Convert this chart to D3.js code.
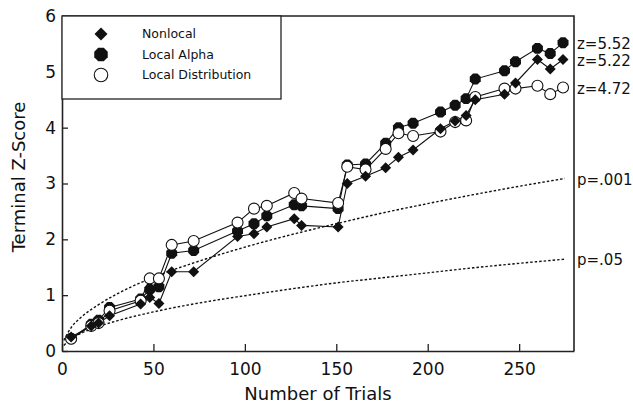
<!DOCTYPE html>
<html>
<head>
<meta charset="utf-8">
<script src="https://cdn.jsdelivr.net/npm/d3@7"></script>
<style>
  body { margin: 0; background: #fff; }
  text { font-family: "DejaVu Sans", "Liberation Sans", sans-serif; fill: #111; }
</style>
</head>
<body>
<div id="chart"></div>
<script>
// trial counts shared by the three series
const trials = [5, 16, 20, 26, 43, 48, 53, 60, 72, 96, 105, 112, 127, 131, 151, 156, 166, 177, 184, 192, 207, 215, 221, 226, 242, 248, 260, 267, 274];

const nonlocal = [0.25, 0.45, 0.50, 0.63, 0.84, 0.96, 0.85, 1.42, 1.42, 2.05, 2.10, 2.22, 2.37, 2.25, 2.22, 3.00, 3.13, 3.28, 3.47, 3.60, 3.98, 4.12, 4.22, 4.50, 4.60, 4.80, 5.22, 5.05, 5.22];
const localAlpha = [0.22, 0.48, 0.55, 0.78, 0.93, 1.10, 1.15, 1.75, 1.80, 2.15, 2.28, 2.42, 2.62, 2.60, 2.55, 3.33, 3.35, 3.72, 4.00, 4.08, 4.28, 4.40, 4.52, 4.87, 5.02, 5.18, 5.42, 5.33, 5.52];
const localDist = [0.22, 0.45, 0.50, 0.72, 0.90, 1.30, 1.30, 1.90, 1.97, 2.30, 2.55, 2.60, 2.83, 2.73, 2.65, 3.30, 3.25, 3.62, 3.90, 3.85, 3.93, 4.10, 4.13, 4.55, 4.70, 4.70, 4.75, 4.60, 4.72];

// significance curves
const critN = [1, 5, 10, 20, 30, 50, 75, 100, 125, 150, 175, 200, 225, 250, 275];
const p001 = [0.19, 0.42, 0.59, 0.83, 1.02, 1.32, 1.61, 1.86, 2.08, 2.28, 2.47, 2.64, 2.80, 2.95, 3.09];
const p05 = [0.10, 0.22, 0.31, 0.44, 0.54, 0.70, 0.86, 0.99, 1.11, 1.22, 1.31, 1.40, 1.49, 1.57, 1.645];

const xTicks = [0, 50, 100, 150, 200, 250];
const yTicks = [0, 1, 2, 3, 4, 5, 6];

const W = 633, H = 405;
const mLeft = 62, mRight = 574, mTop = 16, mBottom = 351;

const x = d3.scaleLinear().domain([0, 280]).range([mLeft, mRight]);
const y = d3.scaleLinear().domain([0, 6]).range([mBottom, mTop]);

const svg = d3.select("#chart").append("svg")
  .attr("width", W).attr("height", H);

// reference curves
const curveLine = d3.line().x((d, i) => x(critN[i])).y(d => y(d)).curve(d3.curveMonotoneX);
[p001, p05].forEach(vals => {
  svg.append("path")
    .attr("d", curveLine(vals))
    .attr("fill", "none")
    .attr("stroke", "#111")
    .attr("stroke-width", 1.4)
    .attr("stroke-dasharray", "2.5,2");
});

// series
const series = [
  { name: "Local Alpha", vals: localAlpha, shape: "octagon" },
  { name: "Local Distribution", vals: localDist, shape: "open" },
  { name: "Nonlocal", vals: nonlocal, shape: "diamond" }
];

const dataLine = d3.line().x((d, i) => x(trials[i])).y(d => y(d));

function drawMarker(g, shape, size) {
  if (shape === "diamond") {
    const s = size * 0.5;
    g.append("path")
      .attr("d", `M0,${-s}L${s},0L0,${s}L${-s},0Z`)
      .attr("fill", "#111");
  } else if (shape === "octagon") {
    const r = size * 0.54;
    const pts = d3.range(8).map(k => {
      const a = Math.PI / 8 + k * Math.PI / 4;
      return [r * Math.cos(a), r * Math.sin(a)];
    });
    g.append("path")
      .attr("d", "M" + pts.join("L") + "Z")
      .attr("fill", "#111");
  } else {
    g.append("circle")
      .attr("r", size * 0.5)
      .attr("fill", "#fff")
      .attr("stroke", "#111")
      .attr("stroke-width", 1.1);
  }
}

series.forEach(s => {
  svg.append("path")
    .attr("d", dataLine(s.vals))
    .attr("fill", "none")
    .attr("stroke", "#111")
    .attr("stroke-width", 1.1);
});

series.forEach(s => {
  svg.append("g").selectAll("g")
    .data(s.vals)
    .join("g")
    .attr("transform", (d, i) => `translate(${x(trials[i])},${y(d)})`)
    .each(function () { drawMarker(d3.select(this), s.shape, 11); });
});

// axes
const xAxis = svg.append("g")
  .attr("transform", `translate(0,${mBottom})`)
  .call(d3.axisBottom(x).tickValues(xTicks).tickSizeInner(-7).tickSizeOuter(0).tickPadding(12));
const yAxis = svg.append("g")
  .attr("transform", `translate(${mLeft},0)`)
  .call(d3.axisLeft(y).tickValues(yTicks).tickFormat(d3.format("d")).tickSizeInner(-6).tickSizeOuter(0).tickPadding(6));

[xAxis, yAxis].forEach(a => {
  a.select(".domain").attr("stroke", "#222").attr("stroke-width", 1.6);
  a.selectAll(".tick line").attr("stroke", "#222").attr("stroke-width", 1.3);
  a.selectAll(".tick text").style("font-size", "17px").style("font-family", "DejaVu Sans").attr("fill", "#111");
});

// top and right border
svg.append("path")
  .attr("d", `M${mLeft},${mTop}H${mRight}V${mBottom}`)
  .attr("fill", "none")
  .attr("stroke", "#222")
  .attr("stroke-width", 1.6);

// axis titles
svg.append("text")
  .attr("x", 318)
  .attr("y", 400)
  .attr("text-anchor", "middle")
  .style("font-size", "18px")
  .text("Number of Trials");

svg.append("text")
  .attr("transform", `translate(25,177) rotate(-90)`)
  .attr("text-anchor", "middle")
  .style("font-size", "18px")
  .text("Terminal Z-Score");

// end labels
const endLabels = [
  { text: "z=5.52", v: localAlpha[localAlpha.length - 1] },
  { text: "z=5.22", v: nonlocal[nonlocal.length - 1] },
  { text: "z=4.72", v: localDist[localDist.length - 1] },
  { text: "p=.001", v: p001[p001.length - 1] },
  { text: "p=.05", v: p05[p05.length - 1] }
];
svg.append("g").selectAll("text")
  .data(endLabels)
  .join("text")
  .attr("x", mRight + 3)
  .attr("y", d => y(d.v) + 1)
  .attr("dy", "0.35em")
  .style("font-size", "15px")
  .text(d => d.text);

// legend
const legend = svg.append("g");
legend.append("rect")
  .attr("x", mLeft).attr("y", mTop)
  .attr("width", 281 - mLeft).attr("height", 99 - mTop)
  .attr("fill", "#fff")
  .attr("stroke", "#222")
  .attr("stroke-width", 1.3);

const legendItems = [series[2], series[0], series[1]];
legendItems.forEach((s, i) => {
  const yy = 34 + i * 20.5;
  const g = legend.append("g").attr("transform", `translate(101,${yy})`);
  drawMarker(g, s.shape, s.shape === "diamond" ? 13 : 13.5);
  legend.append("text")
    .attr("x", 142)
    .attr("y", yy)
    .attr("dy", "0.35em")
    .style("font-size", "12.5px")
    .text(s.name);
});
</script>
</body>
</html>
